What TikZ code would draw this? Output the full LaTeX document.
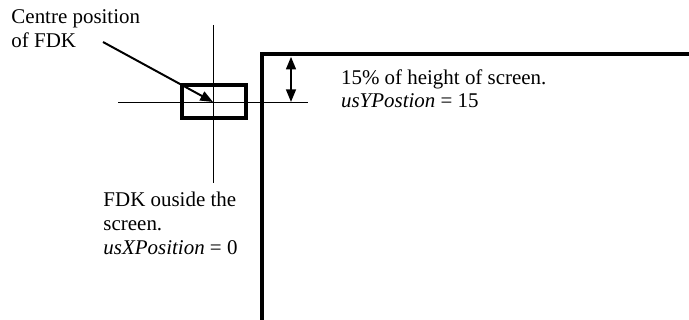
\documentclass[tikz,border=0pt]{standalone}
\usepackage{fontspec}
\setmainfont{Liberation Serif}
\usepackage{tikz}
\usetikzlibrary{calc,arrows.meta}

\tikzset{
  thinline/.style={line width=0.7pt},
  screenline/.style={line width=2.2pt},
  fdkbox/.style={line width=2.6pt},
  pointer/.style={line width=1.4pt},
  notetext/.style={anchor=north west, align=left, inner sep=0pt,
    font=\fontsize{14.9}{16.9}\selectfont}
}

\begin{document}
\begin{tikzpicture}[>={Triangle[length=9pt,width=7pt]}]
  \useasboundingbox (0,0) rectangle (17.225,8);
  % screen edge
  \draw[screenline] (6.55,0) -- (6.55,6.65) -- (17.3,6.65);
  % crosshair through the FDK centre
  \coordinate (fdkCentre) at (5.325,5.45);
  \draw[thinline] (2.95,5.45) -- (7.7,5.45);
  \draw[thinline] (5.325,7.375) -- (5.325,3.425);
  % the FDK
  \draw[fdkbox] (4.55,5.05) rectangle (6.15,5.875);
  % labels
  \node[notetext] (lblCentre) at (0.28,7.76) {Centre position\\of FDK};
  \coordinate (ptrStart) at (2.575,6.95);
  \draw[->, pointer] (ptrStart) -- (fdkCentre);
  \node[notetext] (lblOutside) at (2.58,3.2)
    {FDK ouside the\\screen.\\\textit{usXPosition} = 0};
  % offset from top of screen
  \coordinate (offTop) at (7.275,6.58);
  \coordinate (offBot) at (7.275,5.45);
  \draw[<->, pointer] (offTop) -- (offBot);
  \node[notetext] (lblOffset) at (8.52,6.27)
    {15\% of height of screen.\\\textit{usYPostion} = 15};
\end{tikzpicture}
\end{document}
